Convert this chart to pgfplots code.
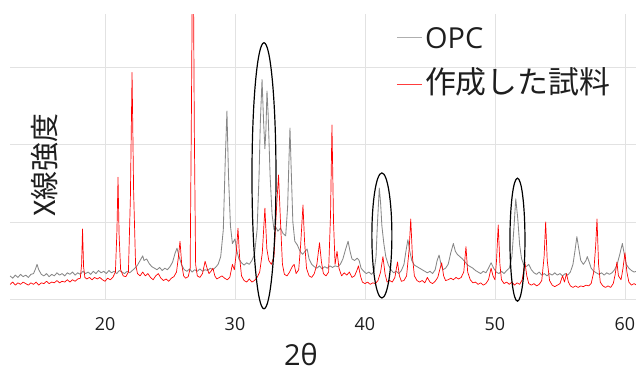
\documentclass[border=0pt]{standalone}
\usepackage{fontspec}
\setmainfont{Open Sans}
\newfontfamily\jp{Noto Sans CJK JP}
\usepackage{pgfplots}
\pgfplotsset{compat=1.18}
\definecolor{opcgray}{RGB}{135,135,135}
\definecolor{leggray}{RGB}{175,175,175}
\definecolor{legred}{RGB}{255,60,60}
\definecolor{gridc}{RGB}{226,226,226}
\definecolor{txt}{RGB}{30,30,30}
\begin{document}
\begin{tikzpicture}
\useasboundingbox (-10bp,-73bp) rectangle (626bp,299bp);
\begin{axis}[
  at={(0,0)}, anchor=south west,
  scale only axis, width=626bp, height=285bp,
  xmin=12.69, xmax=60.85, ymin=0, ymax=3.7,
  xtick={20,30,40,50,60}, ytick={0,1,2,3}, yticklabels={},
  grid=major, major grid style={draw=gridc, line width=0.9pt},
  axis line style={draw=none}, major tick length=0pt,
  xticklabel style={font=\fontsize{18}{18}\selectfont, text=txt, yshift=-15bp},
  /pgf/number format/assume math mode=true,
  clip mode=individual,
]
\addplot[opcgray, line width=0.85pt, line join=round] coordinates {
(12.7,0.30) (12.9,0.27) (13.1,0.31) (13.3,0.28) (13.5,0.32) (13.7,0.29) (13.9,0.31) (14.1,0.28)
(14.3,0.32) (14.5,0.33) (14.65,0.39) (14.77,0.45) (14.9,0.38) (15.1,0.32) (15.3,0.30) (15.5,0.33)
(15.7,0.29) (15.9,0.32) (16.1,0.30) (16.3,0.34) (16.5,0.31) (16.7,0.33) (16.9,0.30) (17.1,0.34)
(17.3,0.32) (17.5,0.35) (17.7,0.31) (17.9,0.34) (18.1,0.32) (18.3,0.36) (18.5,0.33) (18.7,0.35)
(18.9,0.32) (19.1,0.36) (19.3,0.33) (19.5,0.37) (19.7,0.34) (19.9,0.36) (20.1,0.33) (20.3,0.37)
(20.5,0.34) (20.7,0.36) (20.9,0.33) (21.1,0.37) (21.3,0.35) (21.5,0.33) (21.7,0.36) (21.9,0.34)
(22.1,0.37) (22.3,0.40) (22.5,0.44) (22.7,0.50) (22.9,0.56) (23.0,0.50) (23.2,0.52) (23.4,0.46)
(23.6,0.42) (23.8,0.40) (24.0,0.38) (24.2,0.41) (24.4,0.37) (24.6,0.40) (24.8,0.38) (25.0,0.42)
(25.2,0.48) (25.4,0.60) (25.54,0.66) (25.7,0.55) (25.9,0.44) (26.1,0.38) (26.3,0.36) (26.5,0.39)
(26.7,0.35) (26.9,0.38) (27.1,0.36) (27.3,0.39) (27.5,0.36) (27.7,0.38) (27.9,0.37) (28.1,0.40)
(28.3,0.38) (28.5,0.41) (28.7,0.45) (28.9,0.55) (29.1,0.90) (29.25,1.8) (29.38,2.44) (29.5,1.6)
(29.65,0.95) (29.8,0.72) (30.0,0.78) (30.15,0.62) (30.3,0.52) (30.5,0.47) (30.7,0.44) (30.9,0.47)
(31.1,0.45) (31.3,0.50) (31.5,0.58) (31.7,0.9) (31.85,1.6) (31.95,2.3) (32.08,2.85) (32.2,2.3)
(32.3,1.95) (32.38,2.2) (32.46,2.7) (32.55,2.4) (32.7,1.6) (32.85,1.1) (33.0,0.9) (33.15,0.93)
(33.3,0.88) (33.5,0.92) (33.7,0.85) (33.9,0.82) (34.05,1.2) (34.15,1.8) (34.23,2.22) (34.32,1.7)
(34.45,1.0) (34.6,0.75) (34.8,0.70) (35.0,0.62) (35.2,0.58) (35.4,0.62) (35.55,0.65) (35.7,0.52)
(35.9,0.45) (36.1,0.42) (36.3,0.40) (36.5,0.43) (36.7,0.39) (36.9,0.42) (37.1,0.40) (37.3,0.43)
(37.5,0.41) (37.7,0.43) (37.9,0.42) (38.1,0.45) (38.3,0.52) (38.5,0.64) (38.7,0.75) (38.85,0.62)
(39.0,0.52) (39.2,0.50) (39.4,0.53) (39.55,0.50) (39.7,0.40) (39.9,0.36) (40.1,0.33) (40.3,0.35)
(40.5,0.32) (40.7,0.36) (40.85,0.55) (40.95,0.95) (41.1,1.44) (41.2,1.25) (41.3,0.95) (41.45,0.72)
(41.6,0.55) (41.8,0.44) (42.0,0.38) (42.2,0.34) (42.4,0.36) (42.6,0.33) (42.8,0.37) (43.0,0.45)
(43.15,0.62) (43.3,0.77) (43.45,0.62) (43.6,0.50) (43.8,0.44) (44.0,0.42) (44.2,0.40) (44.4,0.38)
(44.6,0.36) (44.8,0.34) (45.0,0.36) (45.2,0.33) (45.4,0.38) (45.55,0.50) (45.7,0.57) (45.85,0.45)
(46.0,0.38) (46.2,0.40) (46.4,0.45) (46.6,0.60) (46.8,0.72) (46.95,0.62) (47.1,0.58) (47.3,0.55)
(47.5,0.52) (47.7,0.48) (47.9,0.44) (48.1,0.42) (48.3,0.40) (48.5,0.37) (48.7,0.35) (48.9,0.33)
(49.1,0.36) (49.3,0.34) (49.5,0.40) (49.7,0.47) (49.9,0.40) (50.1,0.35) (50.3,0.33) (50.5,0.36)
(50.7,0.33) (50.9,0.37) (51.1,0.40) (51.3,0.55) (51.45,0.90) (51.6,1.30) (51.75,1.05) (51.9,0.70)
(52.05,0.52) (52.2,0.45) (52.4,0.42) (52.6,0.45) (52.8,0.38) (53.0,0.34) (53.2,0.32) (53.4,0.35)
(53.6,0.31) (53.8,0.33) (54.0,0.30) (54.2,0.33) (54.4,0.31) (54.6,0.34) (54.8,0.31) (55.0,0.33)
(55.2,0.30) (55.4,0.33) (55.6,0.31) (55.8,0.35) (56.0,0.45) (56.15,0.62) (56.3,0.81) (56.45,0.65)
(56.6,0.50) (56.8,0.45) (57.0,0.50) (57.1,0.55) (57.25,0.48) (57.4,0.40) (57.6,0.36) (57.8,0.34)
(58.0,0.32) (58.2,0.34) (58.4,0.31) (58.6,0.34) (58.8,0.32) (59.0,0.34) (59.2,0.38) (59.4,0.45)
(59.6,0.58) (59.8,0.72) (59.95,0.58) (60.1,0.45) (60.3,0.40) (60.5,0.37) (60.7,0.35) (60.9,0.36)
};
\addplot[red, line width=0.7pt, line join=round] coordinates {
(12.7,0.19) (12.9,0.22) (13.1,0.18) (13.3,0.21) (13.5,0.19) (13.7,0.22) (13.9,0.20) (14.1,0.18)
(14.3,0.21) (14.5,0.19) (14.7,0.22) (14.9,0.18) (15.1,0.21) (15.3,0.20) (15.5,0.23) (15.7,0.20)
(15.9,0.22) (16.1,0.21) (16.3,0.24) (16.5,0.21) (16.7,0.23) (16.9,0.22) (17.1,0.25) (17.3,0.22)
(17.5,0.25) (17.7,0.23) (17.9,0.26) (18.1,0.27) (18.2,0.45) (18.27,0.91) (18.35,0.42) (18.45,0.28)
(18.6,0.26) (18.8,0.28) (19.0,0.25) (19.2,0.28) (19.4,0.26) (19.6,0.28) (19.8,0.25) (20.0,0.23)
(20.2,0.27) (20.4,0.25) (20.6,0.28) (20.8,0.35) (20.92,0.9) (21.0,1.58) (21.08,0.85) (21.2,0.38)
(21.4,0.30) (21.6,0.29) (21.8,0.35) (21.95,1.3) (22.08,2.94) (22.2,1.4) (22.35,0.45) (22.5,0.33)
(22.7,0.30) (22.9,0.35) (23.1,0.30) (23.3,0.33) (23.5,0.28) (23.7,0.25) (23.9,0.30) (24.1,0.33)
(24.3,0.27) (24.5,0.24) (24.7,0.26) (24.9,0.23) (25.1,0.27) (25.3,0.29) (25.5,0.35) (25.65,0.55)
(25.77,0.75) (25.9,0.45) (26.05,0.30) (26.2,0.27) (26.4,0.29) (26.55,0.40) (26.65,2.5) (26.72,4.2)
(26.8,4.2) (26.87,2.2) (26.97,0.45) (27.1,0.30) (27.3,0.28) (27.5,0.33) (27.7,0.49) (27.85,0.40)
(28.0,0.33) (28.15,0.36) (28.3,0.40) (28.45,0.30) (28.6,0.26) (28.8,0.28) (29.0,0.30) (29.2,0.27)
(29.4,0.25) (29.6,0.28) (29.8,0.45) (29.95,0.38) (30.1,0.6) (30.23,0.92) (30.35,0.55) (30.5,0.30)
(30.7,0.24) (30.9,0.22) (31.1,0.26) (31.3,0.22) (31.5,0.24) (31.7,0.28) (31.9,0.35) (32.1,0.60)
(32.3,1.18) (32.45,0.65) (32.6,0.50) (32.8,0.45) (33.0,0.55) (33.2,1.2) (33.35,1.61) (33.5,1.0)
(33.65,0.45) (33.8,0.32) (34.0,0.30) (34.2,0.35) (34.4,0.42) (34.55,0.45) (34.7,0.33) (34.9,0.38)
(35.05,0.7) (35.23,1.22) (35.35,0.75) (35.5,0.40) (35.7,0.30) (35.9,0.28) (36.1,0.33) (36.3,0.45)
(36.5,0.73) (36.65,0.48) (36.8,0.33) (37.0,0.30) (37.2,0.35) (37.35,1.1) (37.46,2.26) (37.58,1.0)
(37.7,0.45) (37.85,0.62) (38.0,0.40) (38.2,0.30) (38.4,0.34) (38.6,0.31) (38.8,0.35) (39.0,0.28)
(39.2,0.30) (39.4,0.38) (39.5,0.43) (39.65,0.30) (39.8,0.22) (40.0,0.20) (40.2,0.22) (40.4,0.19)
(40.6,0.21) (40.8,0.20) (41.0,0.24) (41.2,0.35) (41.38,0.55) (41.55,0.32) (41.7,0.22) (41.9,0.24)
(42.1,0.22) (42.3,0.28) (42.5,0.48) (42.65,0.30) (42.8,0.23) (43.0,0.24) (43.2,0.30) (43.4,0.65)
(43.52,1.04) (43.65,0.55) (43.8,0.30) (44.0,0.24) (44.2,0.22) (44.4,0.24) (44.6,0.21) (44.8,0.28)
(45.0,0.22) (45.2,0.20) (45.4,0.23) (45.6,0.28) (45.75,0.38) (45.9,0.47) (46.05,0.30) (46.2,0.24)
(46.4,0.25) (46.6,0.27) (46.8,0.25) (47.0,0.28) (47.2,0.26) (47.4,0.28) (47.6,0.35) (47.77,0.68)
(47.9,0.35) (48.1,0.25) (48.3,0.21) (48.5,0.22) (48.7,0.19) (48.9,0.21) (49.1,0.18) (49.3,0.20)
(49.5,0.25) (49.7,0.40) (49.85,0.30) (50.0,0.25) (50.12,0.5) (50.25,0.96) (50.38,0.45) (50.5,0.25)
(50.7,0.20) (50.9,0.22) (51.1,0.19) (51.3,0.22) (51.5,0.18) (51.7,0.21) (51.9,0.19) (52.1,0.25)
(52.3,0.48) (52.45,0.30) (52.6,0.20) (52.8,0.18) (53.0,0.20) (53.2,0.17) (53.4,0.19) (53.6,0.24)
(53.78,0.55) (53.9,1.0) (54.02,0.5) (54.2,0.24) (54.4,0.18) (54.6,0.16) (54.8,0.18) (55.0,0.20)
(55.2,0.30) (55.35,0.22) (55.5,0.33) (55.65,0.22) (55.8,0.17) (56.0,0.15) (56.2,0.17) (56.4,0.15)
(56.6,0.17) (56.8,0.16) (57.0,0.18) (57.2,0.17) (57.4,0.20) (57.6,0.35) (57.75,0.70) (57.85,1.04)
(57.97,0.45) (58.1,0.22) (58.3,0.17) (58.5,0.15) (58.7,0.17) (58.9,0.15) (59.1,0.20) (59.25,0.32)
(59.38,0.48) (59.5,0.30) (59.7,0.25) (59.85,0.40) (60.0,0.60) (60.15,0.35) (60.3,0.22) (60.5,0.18)
(60.7,0.20) (60.9,0.18)
};
\draw[black, line width=1.2pt] (axis cs:32.23,1.60) ellipse [x radius=12bp, y radius=133bp];
\draw[black, line width=1.2pt] (axis cs:41.3,0.825) ellipse [x radius=10bp, y radius=62.5bp];
\draw[black, line width=1.2pt] (axis cs:51.73,0.77) ellipse [x radius=7.5bp, y radius=61.5bp];
% legend
\draw[leggray, line width=0.9pt] (axis cs:42.46,3.39) -- ++(25bp,0pt);
\draw[legred, line width=0.9pt] (axis cs:42.46,2.78) -- ++(25bp,0pt);
\node[anchor=base west, inner sep=0pt, font=\fontsize{29}{29}\selectfont, text=txt] at (axis cs:44.61,3.247) {OPC};
\node[anchor=base west, inner sep=0pt, font=\jp\fontsize{31}{31}\selectfont, text=txt] at (axis cs:44.61,2.67) {作成した試料};
\node[rotate=90, font=\jp\fontsize{29}{29}\selectfont, text=txt] at (axis cs:15.38,1.74) {X線強度};
\node[inner sep=0pt, font=\fontsize{29}{29}\selectfont, text=txt] at (axis cs:35.07,-0.72) {2θ};
\end{axis}
\end{tikzpicture}
\end{document}
